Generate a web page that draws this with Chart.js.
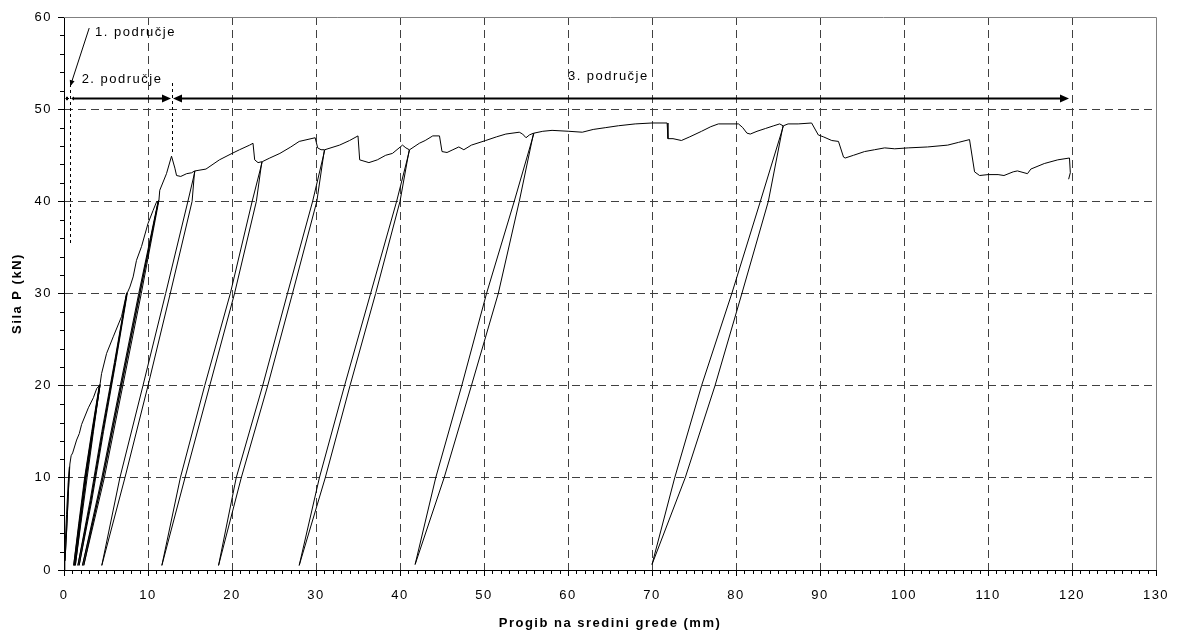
<!DOCTYPE html>
<html>
<head>
<meta charset="utf-8">
<script src="https://cdn.jsdelivr.net/npm/chart.js@4.4.1/dist/chart.umd.min.js"></script>
<style>
html, body { margin: 0; padding: 0; background: #fff; }
</style>
</head>
<body>
<canvas id="myChart" width="1183" height="635"></canvas>
<script>
// [progib (mm), sila P (kN)] - readings along the test record, in order
const podrucje1 = [[0,0],[0.1,2],[0.3,6],[0.5,9.5],[0.65,11.2],[0.5,8],[0.3,4],[0.12,1.0],[0.35,5],[0.55,9],[0.7,11.5]];
const anvelopa20 = [[0.85,12.4],[1.03,12.7],[1.5,14.1],[1.82,14.8],[2.1,15.8],[2.9,17.6],[3.5,18.7],[3.9,19.7],[4.2,20.0]];
const ciklusi20 = [[3.3,15],[2.45,10],[1.75,5],[1.15,0.5],[1.8,5],[2.55,10],[3.4,15],[4.25,20.1],
                   [3.35,15],[2.5,10],[1.85,5],[1.25,0.5],[1.9,5],[2.65,10],[3.45,15],[4.3,20.1],
                   [3.4,15],[2.6,10],[1.95,5],[1.35,0.5],[2.0,5],[2.75,10],[3.5,15],[4.3,20.2]];
const anvelopa30 = [[4.47,21.3],[5.07,23.5],[5.86,25.3],[6.85,27.5],[7.45,30.0]];
const ciklusi30 = [[6.0,22.5],[4.5,15],[3.1,7.5],[1.65,0.5],[3.2,7.5],[4.6,15],[6.1,22.5],[7.5,30.1],
                   [6.05,22.5],[4.6,15],[3.2,7.5],[1.8,0.5],[3.3,7.5],[4.7,15],[6.15,22.5],[7.55,30.1]];
const anvelopa40 = [[7.84,30.7],[8.23,31.8],[8.63,33.6],[9.23,35.1],[10.0,37.6],[10.6,39.0],[11.0,39.9],[11.2,40.0]];
const ciklusi40 = [[8.9,30],[6.7,20],[4.5,10],[2.2,0.5],[4.65,10],[6.85,20],[9.05,30],[11.25,40.1],
                   [9.0,30],[6.8,20],[4.6,10],[2.35,0.5],[4.8,10],[7.0,20],[9.2,30],[11.3,40.1]];
const vrh = [[11.4,41.2],[12.2,43.0],[12.8,44.9],[13.2,43.6],[13.4,42.8],[13.9,42.7],[14.6,43.0],[15.2,43.1],[15.55,43.3]];
const petlja1 = [[15.25,40],[12.65,30],[10.0,20],[7.25,10],[4.5,0.5],[6.65,10],[9.4,20],[12.1,30],[14.75,40],[15.6,43.3]];
const anvelopa2 = [[16.9,43.5],[18.5,44.5],[20.0,45.2],[20.9,45.6],[22.1,46.1],[22.5,46.3],[22.7,44.5],[23.1,44.2],[23.55,44.3]];
const petlja2 = [[22.9,40],[20.3,30],[17.35,20],[14.4,10],[11.65,0.5],[13.85,10],[16.75,20],[19.8,30],[22.4,40],[23.6,44.3]];
const anvelopa3 = [[24.5,44.7],[25.7,45.2],[27.0,45.9],[28.0,46.5],[29.9,46.9],[30.2,45.8],[30.6,45.6],[31.0,45.6]];
const petlja3 = [[30.1,40],[27.2,30],[24.25,20],[21.1,10],[18.4,0.5],[20.5,10],[23.65,20],[26.6,30],[29.6,40],[31.05,45.6]];
const anvelopa4 = [[32.8,46.1],[34.0,46.6],[35.0,47.1],[35.2,44.5],[36.3,44.2],[37.3,44.5],[38.3,45.0],[39.1,45.2],[40.3,46.1],[40.7,45.8],[41.1,45.6]];
const petlja4 = [[40.0,40],[37.1,30],[34.05,20],[31.1,10],[28.0,0.5],[30.4,10],[33.4,20],[36.5,30],[39.6,40],[41.15,45.6]];
const anvelopa5 = [[42.3,46.3],[43.0,46.6],[43.9,47.1],[44.7,47.1],[45.0,45.4],[45.6,45.3],[46.3,45.6],[47.0,45.9],[47.6,45.6],[48.5,46.1],
                   [50.2,46.6],[51.5,47.0],[52.6,47.3],[54.2,47.5],[54.6,47.3],[55.0,46.9],[55.4,47.2],[55.9,47.4]];
const petlja5 = [[54.2,40],[51.7,30],[48.5,20],[45.25,10],[41.8,0.6],[44.25,10],[47.35,20],[50.3,30],[53.6,40],[55.95,47.4]];
const anvelopa6 = [[57.0,47.6],[58.1,47.7],[60.1,47.6],[61.7,47.5],[63.0,47.8],[64.5,48.0],[66.0,48.2],[68.0,48.4],[70.0,48.5],[71.8,48.5],
                   [71.9,46.8],[72.5,46.8],[73.5,46.6],[74.5,47.0],[75.9,47.6],[77.0,48.1],[77.9,48.4],[80.3,48.4],[80.8,48.0],[81.3,47.4],
                   [81.7,47.3],[82.5,47.6],[83.5,47.9],[84.5,48.2],[85.2,48.4],[85.6,48.2]];
const petlja6 = [[83.85,40],[80.7,30],[77.5,20],[73.95,10],[70.0,0.6],[72.7,10],[75.9,20],[79.5,30],[82.9,40],[85.65,48.2]];
const kraj = [[86.2,48.4],[87.4,48.4],[89.0,48.5],[89.8,47.2],[90.4,47.0],[91.4,46.6],[92.2,46.5],[92.8,44.8],[93.0,44.7],[94.0,45.0],
              [95.3,45.4],[96.5,45.6],[97.7,45.8],[98.9,45.7],[100.5,45.8],[102.8,45.9],[105.2,46.1],[106.5,46.4],[107.8,46.7],[108.4,43.2],
              [109.0,42.8],[110.0,42.9],[111.2,42.9],[111.9,42.8],[113.0,43.2],[113.5,43.3],[114.7,43.0],[115.1,43.5],[116.7,44.1],[118.3,44.5],
              [119.7,44.7],[119.8,43.1],[119.6,42.4]];

// annotations (data coordinates)
const oznake = ['1. područje', '2. područje', '3. područje'];
const oznakeX = [3.7, 2.1, 64.8];
const oznakeY = [58.3, 53.2, 53.6];
const granice = [0, 0.7, 12.8, 119.7];
const strelicaY = 51.2;

const tocke = [].concat(podrucje1, anvelopa20, ciklusi20, anvelopa30, ciklusi30, anvelopa40, ciklusi40, vrh,
  petlja1, anvelopa2, petlja2, anvelopa3, petlja3, anvelopa4, petlja4, anvelopa5, petlja5, anvelopa6, petlja6, kraj)
  .map(p => ({ x: p[0], y: p[1] }));

const FONT = '"Liberation Sans", Arial, sans-serif';
const RAZMAK = '1.5px';

function glava(ctx, x, y, dir, len, half) {
  ctx.beginPath();
  ctx.moveTo(x, y);
  ctx.lineTo(x - dir * len, y - half);
  ctx.lineTo(x - dir * len, y + half);
  ctx.closePath();
  ctx.fill();
}

const dodaci = {
  id: 'dodaci',
  beforeUpdate(chart) { chart.ctx.letterSpacing = RAZMAK; },
  beforeLayout(chart) { chart.ctx.letterSpacing = RAZMAK; },
  beforeDraw(chart) { chart.ctx.letterSpacing = RAZMAK; },
  afterDraw(chart) {
    const { ctx, chartArea: a, scales: { x, y } } = chart;
    const px = v => Math.round(x.getPixelForValue(v));
    const py = v => Math.round(y.getPixelForValue(v));
    ctx.save();
    ctx.letterSpacing = RAZMAK;

    // plot frame top & right
    ctx.strokeStyle = '#808080';
    ctx.lineWidth = 1;
    ctx.beginPath();
    ctx.moveTo(Math.round(a.left), Math.round(a.top) + 0.5);
    ctx.lineTo(Math.round(a.right) + 0.5, Math.round(a.top) + 0.5);
    ctx.lineTo(Math.round(a.right) + 0.5, Math.round(a.bottom));
    ctx.stroke();

    // minor ticks
    ctx.strokeStyle = '#000';
    ctx.beginPath();
    for (let v = 2; v < 60; v += 2) {
      if (v % 10 === 0) continue;
      const yy = py(v) + 0.5;
      ctx.moveTo(a.left - 4, yy);
      ctx.lineTo(a.left, yy);
    }
    for (let v = 1; v < 130; v++) {
      if (v % 10 === 0) continue;
      const xx = px(v) + 0.5;
      ctx.moveTo(xx, a.bottom);
      ctx.lineTo(xx, a.bottom + 4);
    }
    ctx.stroke();

    // region boundary markers
    ctx.setLineDash([3, 3]);
    ctx.beginPath();
    ctx.moveTo(px(granice[1]) + 0.5, py(52.7));
    ctx.lineTo(px(granice[1]) + 0.5, py(35.5));
    ctx.moveTo(px(granice[2]) + 0.5, py(52.8));
    ctx.lineTo(px(granice[2]) + 0.5, py(45.0));
    ctx.stroke();
    ctx.setLineDash([]);

    // arrows
    ctx.fillStyle = '#000';
    const ya = py(strelicaY) + 0.5;
    ctx.lineWidth = 1;
    ctx.beginPath();
    ctx.moveTo(px(granice[0]) + 2, ya);
    ctx.lineTo(px(granice[1]) - 1, ya);
    ctx.stroke();
    glava(ctx, px(granice[0]) + 1, ya, -1, 3, 2);
    glava(ctx, px(granice[1]) - 1, ya, 1, 3, 2);
    glava(ctx, px(granice[1]) + 1, ya, -1, 3, 2);
    ctx.lineWidth = 2;
    ctx.beginPath();
    ctx.moveTo(px(granice[1]) + 3, ya);
    ctx.lineTo(px(granice[2]) - 6, ya);
    ctx.moveTo(px(granice[2]) + 6, ya);
    ctx.lineTo(px(granice[3]) - 6, ya);
    ctx.stroke();
    glava(ctx, px(granice[2]) - 1, ya, 1, 9, 4);
    glava(ctx, px(granice[2]) + 1, ya, -1, 9, 4);
    glava(ctx, px(granice[3]), ya, 1, 9, 4);

    // leader to zone 1
    ctx.lineWidth = 1;
    const lx1 = x.getPixelForValue(3.0), ly1 = y.getPixelForValue(58.8);
    const lx2 = x.getPixelForValue(0.75), ly2 = y.getPixelForValue(52.5);
    ctx.beginPath();
    ctx.moveTo(lx1, ly1);
    ctx.lineTo(lx2, ly2);
    ctx.stroke();
    const ang = Math.atan2(ly2 - ly1, lx2 - lx1);
    ctx.save();
    ctx.translate(lx2, ly2);
    ctx.rotate(ang);
    glava(ctx, 0, 0, 1, 6, 2.5);
    ctx.restore();

    // labels
    ctx.font = '13px ' + FONT;
    ctx.fillStyle = '#000';
    ctx.textBaseline = 'middle';
    oznake.forEach((t, i) => {
      ctx.textAlign = i === 2 ? 'center' : 'left';
      ctx.fillText(t, x.getPixelForValue(oznakeX[i]), y.getPixelForValue(oznakeY[i]));
    });
    ctx.restore();
  }
};

new Chart(document.getElementById('myChart'), {
  type: 'scatter',
  data: {
    datasets: [{
      label: 'Sila P',
      data: tocke,
      showLine: true,
      borderColor: '#000',
      borderWidth: 1,
      pointRadius: 0,
      tension: 0,
      fill: false
    }]
  },
  options: {
    responsive: false,
    animation: false,
    devicePixelRatio: 1,
    layout: { padding: { top: 17, right: 27, left: 0, bottom: 0 } },
    plugins: { legend: { display: false }, tooltip: { enabled: false } },
    scales: {
      x: {
        type: 'linear', min: 0, max: 130,
        afterFit(s) { s.height = 65; },
        ticks: { stepSize: 10, color: '#000', font: { size: 13, family: FONT }, padding: 12, maxRotation: 0, autoSkip: false },
        grid: {
          color: c => (c.tick && (c.tick.value === 130 || c.tick.value === 0)) ? 'rgba(0,0,0,0)' : '#404040',
          tickColor: '#000', tickLength: 6
        },
        border: { color: '#000', dash: [8, 5] },
        title: { display: true, text: 'Progib na sredini grede (mm)', color: '#000',
                 font: { size: 13, weight: 'bold', family: FONT }, padding: { top: 0, bottom: 4 } }
      },
      y: {
        type: 'linear', min: 0, max: 60,
        afterFit(s) { s.width = 64; },
        ticks: { stepSize: 10, color: '#000', font: { size: 13, family: FONT }, padding: 6 },
        grid: {
          color: c => (c.tick && (c.tick.value === 60 || c.tick.value === 0)) ? 'rgba(0,0,0,0)' : '#404040',
          tickColor: '#000', tickLength: 6
        },
        border: { color: '#000', dash: [8, 5] },
        title: { display: true, text: 'Sila P (kN)', color: '#000',
                 font: { size: 13, weight: 'bold', family: FONT }, padding: { top: 10, bottom: 0 } }
      }
    }
  },
  plugins: [dodaci]
});
</script>
</body>
</html>
